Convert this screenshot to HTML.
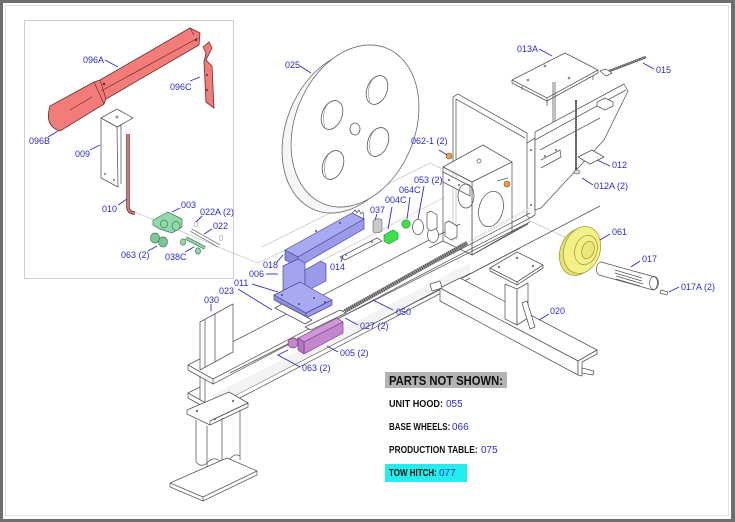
<!DOCTYPE html>
<html><head><meta charset="utf-8"><style>
html,body{margin:0;padding:0;background:#6e6e6e;}
svg{display:block;}
.l{font-family:"Liberation Sans Narrow","Liberation Sans",sans-serif;font-size:9px;fill:#2b2bd0;}
.ld{stroke:#2b2bd0;stroke-width:0.9;fill:none;}
.e{stroke:#555;stroke-width:0.75;fill:#fff;stroke-linejoin:round;}
.en{stroke:#555;stroke-width:0.75;fill:none;}
.f{stroke:#c8c8c8;stroke-width:0.7;fill:none;}
.b{font-family:"Liberation Sans",sans-serif;font-weight:bold;fill:#111;}
.n{font-family:"Liberation Sans",sans-serif;fill:#2b2bd0;}
</style></head><body>
<svg width="735" height="522" viewBox="0 0 735 522" xmlns="http://www.w3.org/2000/svg">
<rect width="735" height="522" fill="#6e6e6e"/>
<rect x="3" y="3" width="728" height="516" fill="#fff"/>
<rect x="5.5" y="5.5" width="723" height="510" fill="none" stroke="#e2e2e2" stroke-width="1"/>

<rect x="24.5" y="20.5" width="209" height="258" fill="none" stroke="#cfcfcf" stroke-width="1"/>

<polyline class="f" points="135,212 233,253 258,263 292,247"/>
<line class="f" x1="262" y1="247" x2="430" y2="163"/>
<line class="f" x1="430" y1="163" x2="470" y2="182"/>
<line class="f" x1="528" y1="220" x2="567" y2="238"/>
<line class="f" x1="300" y1="272" x2="445" y2="197"/>

<!-- 096A/096B handle -->
<path d="M60,131 Q44,126 50,106 L94,82 L100,80 L190,28 L200,33 L199,45 L106,99 L104,104 Z" fill="#f27c7a" stroke="#6a2a2a" stroke-width="0.8"/>
<path d="M94,82 L104,104 M100,80 L106,99 M101,91 L198,38 M70,110 L92,97 M190,28 L194,35" stroke="#6a2a2a" stroke-width="0.7" fill="none"/>
<circle cx="104" cy="84" r="1.3" fill="#6a2a2a"/><circle cx="196" cy="40" r="1.2" fill="#6a2a2a"/>
<!-- 096C -->
<path d="M203,47 L209,42 L212,48 L206,60 L212,66 L214,108 L206,102 L204,62 L206,53 Z" fill="#f27c7a" stroke="#6a2a2a" stroke-width="0.8"/>
<circle cx="207" cy="75" r="1" fill="#6a2a2a"/><circle cx="207" cy="90" r="1" fill="#6a2a2a"/>
<!-- 009 -->
<path class="e" d="M101,118 L117,109 L133,118 L117,127 Z"/>
<path class="e" d="M101,118 L117,127 L118,187 L101,178 Z"/>
<line class="en" x1="117" y1="127" x2="121" y2="125"/><line class="en" x1="121" y1="125" x2="121" y2="184"/>
<circle cx="117" cy="117" r="1.5" fill="#999"/><circle cx="105" cy="174" r="1.2" fill="#999"/><circle cx="114" cy="180" r="1.2" fill="#999"/>
<!-- 010 rod -->
<path d="M128,134 L128,208 Q129,213 135,213" stroke="#5a2a2a" stroke-width="3.4" fill="none"/>
<path d="M128,134 L128,208 Q129,213 135,213" stroke="#e87a76" stroke-width="1.8" fill="none"/>
<!-- 003 green -->
<path d="M153,220 L168,212 L182,219 L182,227 L172,233 L160,229 L153,225 Z" fill="#92d8ab" stroke="#3d7a52" stroke-width="0.7"/>
<ellipse cx="176" cy="226" rx="4" ry="4.5" fill="#92d8ab" stroke="#3d7a52" stroke-width="0.7"/>
<ellipse cx="164" cy="224" rx="3.5" ry="4" fill="#92d8ab" stroke="#3d7a52" stroke-width="0.7"/>
<ellipse cx="155" cy="238" rx="4.5" ry="5" fill="#7cc898" stroke="#3d7a52" stroke-width="0.7"/>
<ellipse cx="163" cy="242" rx="4.5" ry="5" fill="#7cc898" stroke="#3d7a52" stroke-width="0.7"/>
<line x1="186" y1="238" x2="205" y2="248" stroke="#3d7a52" stroke-width="3.4"/>
<line x1="186" y1="238" x2="205" y2="248" stroke="#92d8ab" stroke-width="2"/>
<ellipse cx="183" cy="242" rx="2.5" ry="3.2" fill="#92d8ab" stroke="#3d7a52" stroke-width="0.7"/>
<ellipse cx="198" cy="251" rx="2.5" ry="3.2" fill="#92d8ab" stroke="#3d7a52" stroke-width="0.7"/>
<line x1="191" y1="230" x2="219" y2="246" stroke="#666" stroke-width="3.4"/>
<line x1="191" y1="230" x2="219" y2="246" stroke="#fff" stroke-width="2"/>
<ellipse cx="196" cy="224" rx="1.8" ry="2.5" fill="#fff" stroke="#aaa" stroke-width="0.7"/>
<ellipse cx="221" cy="238" rx="1.8" ry="2.5" fill="#fff" stroke="#aaa" stroke-width="0.7"/>

<!-- PULLEY 025 -->
<ellipse cx="346" cy="132" rx="60" ry="84" transform="rotate(22 346 132)" fill="#f6f6f6" stroke="#666" stroke-width="0.8"/>
<ellipse cx="355" cy="126" rx="60" ry="84" transform="rotate(22 355 126)" fill="#fff" stroke="#666" stroke-width="0.8"/>
<g fill="#fff" stroke="#555" stroke-width="0.8">
<ellipse cx="377" cy="90" rx="10" ry="15" transform="rotate(22 377 90)"/>
<ellipse cx="332" cy="115" rx="10" ry="15" transform="rotate(22 332 115)"/>
<ellipse cx="378" cy="142" rx="10" ry="15" transform="rotate(22 378 142)"/>
<ellipse cx="333" cy="165" rx="10" ry="15" transform="rotate(22 333 165)"/>
<ellipse cx="355" cy="129" rx="5" ry="6"/>
</g>
<path d="M372,80 q-6,10 -2,22 M327,105 q-6,10 -2,22 M373,132 q-6,10 -2,22 M328,155 q-6,10 -2,22" stroke="#888" stroke-width="0.6" fill="none"/>

<!-- 013A & 015 -->
<path class="e" d="M512,80 L565,53 L598,70 L598,73 L547,101 L512,83 Z"/>
<path class="en" d="M512,80 L547,98 L598,70 M547,98 L547,101"/>
<path class="en" d="M522,86 L522,90 M547,101 L547,106 M593,76 L593,80"/>
<circle cx="545" cy="66" r="1.3" fill="#888"/><circle cx="569" cy="78" r="1.3" fill="#888"/><circle cx="528" cy="80" r="1.3" fill="#888"/>
<line x1="604" y1="73" x2="646" y2="57" stroke="#555" stroke-width="2.4"/>
<line x1="606" y1="72" x2="646" y2="57" stroke="#ddd" stroke-width="0.8" stroke-dasharray="1 1"/>
<path class="e" d="M600,71 L606,69 L612,73 L606,76 Z"/>
<line class="en" x1="553" y1="82" x2="553" y2="122"/><line class="en" x1="555" y1="82" x2="555" y2="121"/>

<!-- CHASSIS BOX -->
<path class="en" d="M453,242 L453,97 L458,94 L527,133 L527,143 M456,240 L456,99 L525,138"/>
<path class="e" d="M527,143 L535,138 L535,215 L530,218 L527,216 Z"/>
<circle cx="531" cy="150" r="1" fill="#666"/><circle cx="531" cy="205" r="1" fill="#666"/>
<path class="e" d="M535,132 L624,84 L628,91 L604,140 L541,208 L535,210 Z"/>
<path class="en" d="M535,140 L626,90 M540,150 L600,118 M541,160 L560,150 L561,157 L541,168"/>
<circle cx="545" cy="156" r="1" fill="#666"/><circle cx="556" cy="150" r="1" fill="#666"/>
<path class="e" d="M597,102 L605,98 L613,102 L613,106 L605,110 L597,106 Z"/>
<line x1="576" y1="100" x2="576" y2="170" stroke="#555" stroke-width="2"/>
<line x1="576" y1="102" x2="576" y2="168" stroke="#ddd" stroke-width="0.7" stroke-dasharray="1 1"/>
<ellipse cx="577" cy="172" rx="3" ry="2" fill="#ddd" stroke="#555" stroke-width="0.6"/>
<path class="e" d="M578,157 L592,150 L604,157 L590,164 Z"/>
<path class="e" d="M443,167 L483,145 L512,162 L472,182 Z"/>
<path class="e" d="M472,182 L512,162 L512,232 L472,255 Z" fill-opacity="0.6"/>
<path class="e" d="M443,167 L472,182 L472,255 L443,241 Z" fill-opacity="0.6"/>
<ellipse cx="491" cy="209" rx="12" ry="18" transform="rotate(15 491 209)" class="e"/>
<path class="e" d="M443,172 L470,186 L470,196 L443,182 Z"/>
<circle cx="449" cy="180" r="1" fill="#666"/><circle cx="459" cy="185" r="1" fill="#666"/>
<ellipse cx="466" cy="196" rx="8" ry="12" class="en"/>
<circle cx="479" cy="161" r="2" class="en"/>
<path class="en" d="M472,255 L528,224 M443,241 L429,248 M512,232 L528,224 M497,181 L508,178"/>
<circle cx="449" cy="156" r="3" fill="#e0a050" stroke="#8a5a20" stroke-width="0.6"/>
<circle cx="507" cy="184" r="3" fill="#e0a050" stroke="#8a5a20" stroke-width="0.6"/>

<!-- MAIN BEAM -->
<g class="en">
<line x1="188" y1="365" x2="460" y2="224"/>
<line x1="213" y1="379" x2="530" y2="213"/>
<line x1="213" y1="384" x2="530" y2="218"/>
<line x1="230" y1="373" x2="530" y2="222"/>
<line x1="213" y1="407" x2="470" y2="273"/>
<line x1="213" y1="412" x2="470" y2="278"/>
<line x1="230" y1="398" x2="520" y2="248"/>
<line x1="420" y1="300" x2="600" y2="206"/>
</g>
<path d="M213,395 L470,263 L470,273 L213,407 Z" fill="#f3f3f3" stroke="none"/>
<path class="e" d="M188,365 L213,379 L213,384 L188,370 Z"/>
<path class="e" d="M188,393 L213,407 L213,412 L188,398 Z"/>
<line class="en" x1="200" y1="376" x2="200" y2="400"/><line class="en" x1="205" y1="379" x2="205" y2="402"/>
<line class="en" x1="188" y1="393" x2="200" y2="387"/>
<line x1="345" y1="311" x2="467" y2="243" stroke="#999" stroke-width="4"/>
<line x1="345" y1="311" x2="467" y2="243" stroke="#444" stroke-width="4" stroke-dasharray="0.8 1.4"/>
<line x1="467" y1="243" x2="530" y2="208" stroke="#ccc" stroke-width="3" stroke-dasharray="0.8 1.4"/>
<path class="e" d="M200,322 L233,304 L233,352 L200,370 Z"/>
<line class="en" x1="205" y1="320" x2="205" y2="367"/>
<line class="en" x1="215" y1="314" x2="215" y2="362"/>
<path class="e" d="M187,410 L229,392 L248,403 L210,421 L210,425 L187,414 Z"/>
<path class="en" d="M210,421 L248,403 L248,407 L210,425"/>
<circle cx="197" cy="411" r="1.2" fill="#777"/><circle cx="233" cy="401" r="1.2" fill="#777"/><circle cx="215" cy="419" r="1.2" fill="#777"/>
<path class="en" d="M196,420 L196,462 M207,426 L207,480 M240,410 L240,460 M222,418 L222,460"/>
<path class="en" d="M196,462 q5,6 11,1 q6,-7 13,-2 q7,5 11,-3 q4,-5 9,-2"/>
<path class="en" d="M196,471 q5,6 11,1 q6,-7 13,-2 q7,5 11,-3 q4,-5 9,-2 M196,471 L196,487 M240,468 L240,478"/>
<path class="e" d="M170,483 L227,458 L257,471 L203,497 Z"/>
<path class="en" d="M170,483 L170,487 L203,501 L257,475 L257,471 M203,497 L203,501"/>

<!-- AXIS PARTS -->
<path class="e" d="M340,257 L377,238 L382,241 L345,260 Z"/>
<circle cx="346" cy="255" r="1" fill="#777"/><circle cx="372" cy="242" r="1" fill="#777"/>
<path d="M373,221 Q377,217 382,220 L382,231 Q378,234 373,232 Z" fill="#c9c9c9" stroke="#666" stroke-width="0.6"/>
<path d="M384,235 L393,230 L398,233 L398,239 L389,244 L384,241 Z" fill="#3ee04a" stroke="#1f8a2a" stroke-width="0.6"/>
<circle cx="406" cy="224" r="4.2" fill="#3ee04a" stroke="#1f8a2a" stroke-width="0.6"/>
<ellipse cx="418" cy="227" rx="5.5" ry="7.5" class="e"/>
<ellipse cx="433" cy="235" rx="5.5" ry="7.5" class="e"/>
<path class="e" d="M427,213 L431,211 L437,215 L437,228 L431,231 L427,228 Z"/>
<path class="e" d="M445,223 L449,221 L457,226 L457,237 L451,240 L445,236 Z"/>

<!-- PURPLE -->
<g stroke="#4a4a9a" stroke-width="0.7" stroke-linejoin="round">
<path d="M285,250 L352,213 L364,219 L298,257 Z" fill="#a9a9f2"/>
<path d="M298,257 L364,219 L364,229 L298,267 Z" fill="#9a9ae8"/>
<path d="M285,250 L298,257 L298,267 L285,260 Z" fill="#8c8cdc"/>
<path d="M352,213 L355,210 L357,213 L359,210 L361,214 L363,212 L364,219" fill="none"/>
<path d="M283,266 L298,259 L305,263 L305,296 L290,304 L283,299 Z" fill="#a2a2ee"/>
<path d="M305,270 L321,261 L326,264 L326,281 L305,292 Z" fill="#9a9ae8"/>
<path d="M274,295 L300,282 L332,300 L306,313 Z" fill="#a9a9f2"/>
<path d="M274,295 L306,313 L306,318 L274,300 Z" fill="#8c8cdc"/>
<path d="M306,313 L332,300 L332,305 L306,318 Z" fill="#9a9ae8"/>
</g>
<g fill="#4a4a9a"><circle cx="282" cy="295" r="1"/><circle cx="299" cy="304" r="1"/><circle cx="314" cy="298" r="1"/><circle cx="325" cy="302" r="1"/><circle cx="316" cy="231" r="1"/><circle cx="340" cy="223" r="1"/></g>
<path class="e" d="M275,308 L282,304 L312,320 L305,324 Z"/>
<path class="e" d="M305,327 L340,310 L346,313 L311,330 Z"/>
<g stroke="#7a3a8a" stroke-width="0.7" stroke-linejoin="round">
<path d="M298,338 L337,318 L343,322 L304,342 Z" fill="#cf98d8"/>
<path d="M304,342 L343,322 L343,333 L304,354 Z" fill="#c486cf"/>
<path d="M298,338 L304,342 L304,354 L298,350 Z" fill="#b276c0"/>
<circle cx="293" cy="343" r="5" fill="#c486cf"/>
</g>

<!-- 061 / 017 / 020 -->
<ellipse cx="578" cy="252" rx="18" ry="24" transform="rotate(18 578 252)" fill="#e6e070" stroke="#9a9430" stroke-width="0.7"/>
<ellipse cx="582" cy="250" rx="18" ry="24" transform="rotate(18 582 250)" fill="#f4f088" stroke="#9a9430" stroke-width="0.7"/>
<ellipse cx="586" cy="250" rx="11" ry="15" transform="rotate(18 586 250)" fill="#f4f088" stroke="#9a9430" stroke-width="0.7"/>
<ellipse cx="588" cy="250" rx="6" ry="9" transform="rotate(18 588 250)" fill="#ece67a" stroke="#9a9430" stroke-width="0.7"/>
<path d="M601,262 L655,277 A5,7 0 0 1 653,290 L599,275 A5,7 0 0 1 601,262 Z" class="e"/>
<ellipse cx="654" cy="283" rx="4.5" ry="6.5" class="en"/>
<path class="en" d="M615,270 L642,278 M615,273 L642,281 M616,276 L643,284 M616,279 L640,286"/>
<path class="e" d="M661,290 L668,292 L667,295 L660,293 Z"/>
<path class="e" d="M490,268 L517,252 L543,265 L517,282 Z"/>
<path class="en" d="M490,268 L490,271 L517,285 L543,268 L543,265 M517,282 L517,285"/>
<circle cx="499" cy="267" r="1.2" fill="#777"/><circle cx="517" cy="258" r="1.2" fill="#777"/><circle cx="533" cy="266" r="1.2" fill="#777"/>
<path class="e" d="M440,288 L460,278 L597,350 L578,361 Z"/>
<path class="e" d="M440,288 L578,361 L578,375 L440,301 Z"/>
<path class="e" d="M578,361 L597,350 L597,354 L582,362 L582,376 L578,375 Z"/>
<path class="e" d="M505,284 L517,289 L517,325 L505,319 Z"/>
<path class="e" d="M517,289 L528,283 L528,318 L517,325 Z"/>
<path class="e" d="M522,303 L527,301 L535,327 L530,329 Z"/>
<path class="e" d="M430,284 L440,281 L442,288 L432,291 Z"/>
<path class="e" d="M582,368 L594,371 L593,375 L582,373 Z"/>

<!-- LEADERS -->
<g class="ld">
<line x1="105" y1="60" x2="118" y2="67"/>
<line x1="190" y1="81" x2="200" y2="77"/>
<line x1="48" y1="137" x2="58" y2="131"/>
<line x1="90" y1="150" x2="100" y2="145"/>
<line x1="118" y1="205" x2="127" y2="199"/>
<line x1="172" y1="212" x2="180" y2="208"/>
<line x1="196" y1="222" x2="202" y2="216"/>
<line x1="204" y1="234" x2="212" y2="229"/>
<line x1="148" y1="251" x2="157" y2="246"/>
<line x1="185" y1="252" x2="194" y2="247"/>
<line x1="300" y1="66" x2="311" y2="73"/>
<line x1="539" y1="49" x2="552" y2="56"/>
<line x1="643" y1="63" x2="654" y2="69"/>
<line x1="439" y1="150" x2="447" y2="155"/>
<line x1="424" y1="186" x2="418" y2="219"/>
<line x1="410" y1="197" x2="407" y2="219"/>
<line x1="392" y1="207" x2="388" y2="229"/>
<line x1="377" y1="214" x2="375" y2="220"/>
<line x1="597" y1="160" x2="610" y2="166"/>
<line x1="582" y1="178" x2="593" y2="185"/>
<line x1="600" y1="240" x2="610" y2="234"/>
<line x1="631" y1="267" x2="640" y2="261"/>
<line x1="669" y1="292" x2="679" y2="287"/>
<line x1="539" y1="320" x2="549" y2="314"/>
<line x1="277" y1="262" x2="283" y2="255"/>
<line x1="266" y1="274" x2="278" y2="274"/>
<line x1="252" y1="284" x2="278" y2="292"/>
<line x1="238" y1="289" x2="272" y2="310"/>
<line x1="211" y1="304" x2="211" y2="311"/>
<line x1="341" y1="262" x2="343" y2="256"/>
<line x1="373" y1="300" x2="393" y2="310"/>
<line x1="345" y1="318" x2="358" y2="325"/>
<line x1="327" y1="346" x2="338" y2="352"/>
<polyline points="288,350 278,355 300,367"/>
</g>

<!-- LABELS -->
<g class="l">
<text x="83" y="63">096A</text>
<text x="170" y="90">096C</text>
<text x="29" y="144">096B</text>
<text x="75" y="157">009</text>
<text x="102" y="212">010</text>
<text x="181" y="208">003</text>
<text x="200" y="215">022A (2)</text>
<text x="213" y="229">022</text>
<text x="121" y="258">063 (2)</text>
<text x="165" y="260">038C</text>
<text x="285" y="68">025</text>
<text x="517" y="52">013A</text>
<text x="656" y="73">015</text>
<text x="411" y="144">062-1 (2)</text>
<text x="414" y="183">053 (2)</text>
<text x="399" y="193">064C</text>
<text x="385" y="203">004C</text>
<text x="370" y="213">037</text>
<text x="612" y="168">012</text>
<text x="594" y="189">012A (2)</text>
<text x="612" y="235">061</text>
<text x="642" y="262">017</text>
<text x="681" y="290">017A (2)</text>
<text x="550" y="314">020</text>
<text x="263" y="268">018</text>
<text x="249" y="277">006</text>
<text x="234" y="286">011</text>
<text x="219" y="294">023</text>
<text x="204" y="303">030</text>
<text x="330" y="270">014</text>
<text x="396" y="315">050</text>
<text x="360" y="329">027 (2)</text>
<text x="340" y="356">005 (2)</text>
<text x="302" y="371">063 (2)</text>
</g>

<!-- PARTS NOT SHOWN -->
<rect x="385" y="372" width="122" height="16" fill="#b3b3b3"/>
<text class="b" font-size="13" transform="translate(389,385) scale(0.865,1)">PARTS NOT SHOWN:</text>
<text class="b" font-size="10" transform="translate(389,407) scale(0.909,1)">UNIT HOOD:</text>
<text class="n" x="446" y="407" font-size="10">055</text>
<text class="b" font-size="10" transform="translate(389,430) scale(0.80,1)">BASE WHEELS:</text>
<text class="n" x="452" y="430" font-size="10">066</text>
<text class="b" font-size="10" transform="translate(389,453) scale(0.837,1)">PRODUCTION TABLE:</text>
<text class="n" x="481" y="453" font-size="10">075</text>
<rect x="385" y="464" width="82" height="18" fill="#22eeee"/>
<text class="b" font-size="10" transform="translate(389,476) scale(0.80,1)">TOW HITCH:</text>
<text class="n" x="439" y="476" font-size="10">077</text>
</svg>
</body></html>
